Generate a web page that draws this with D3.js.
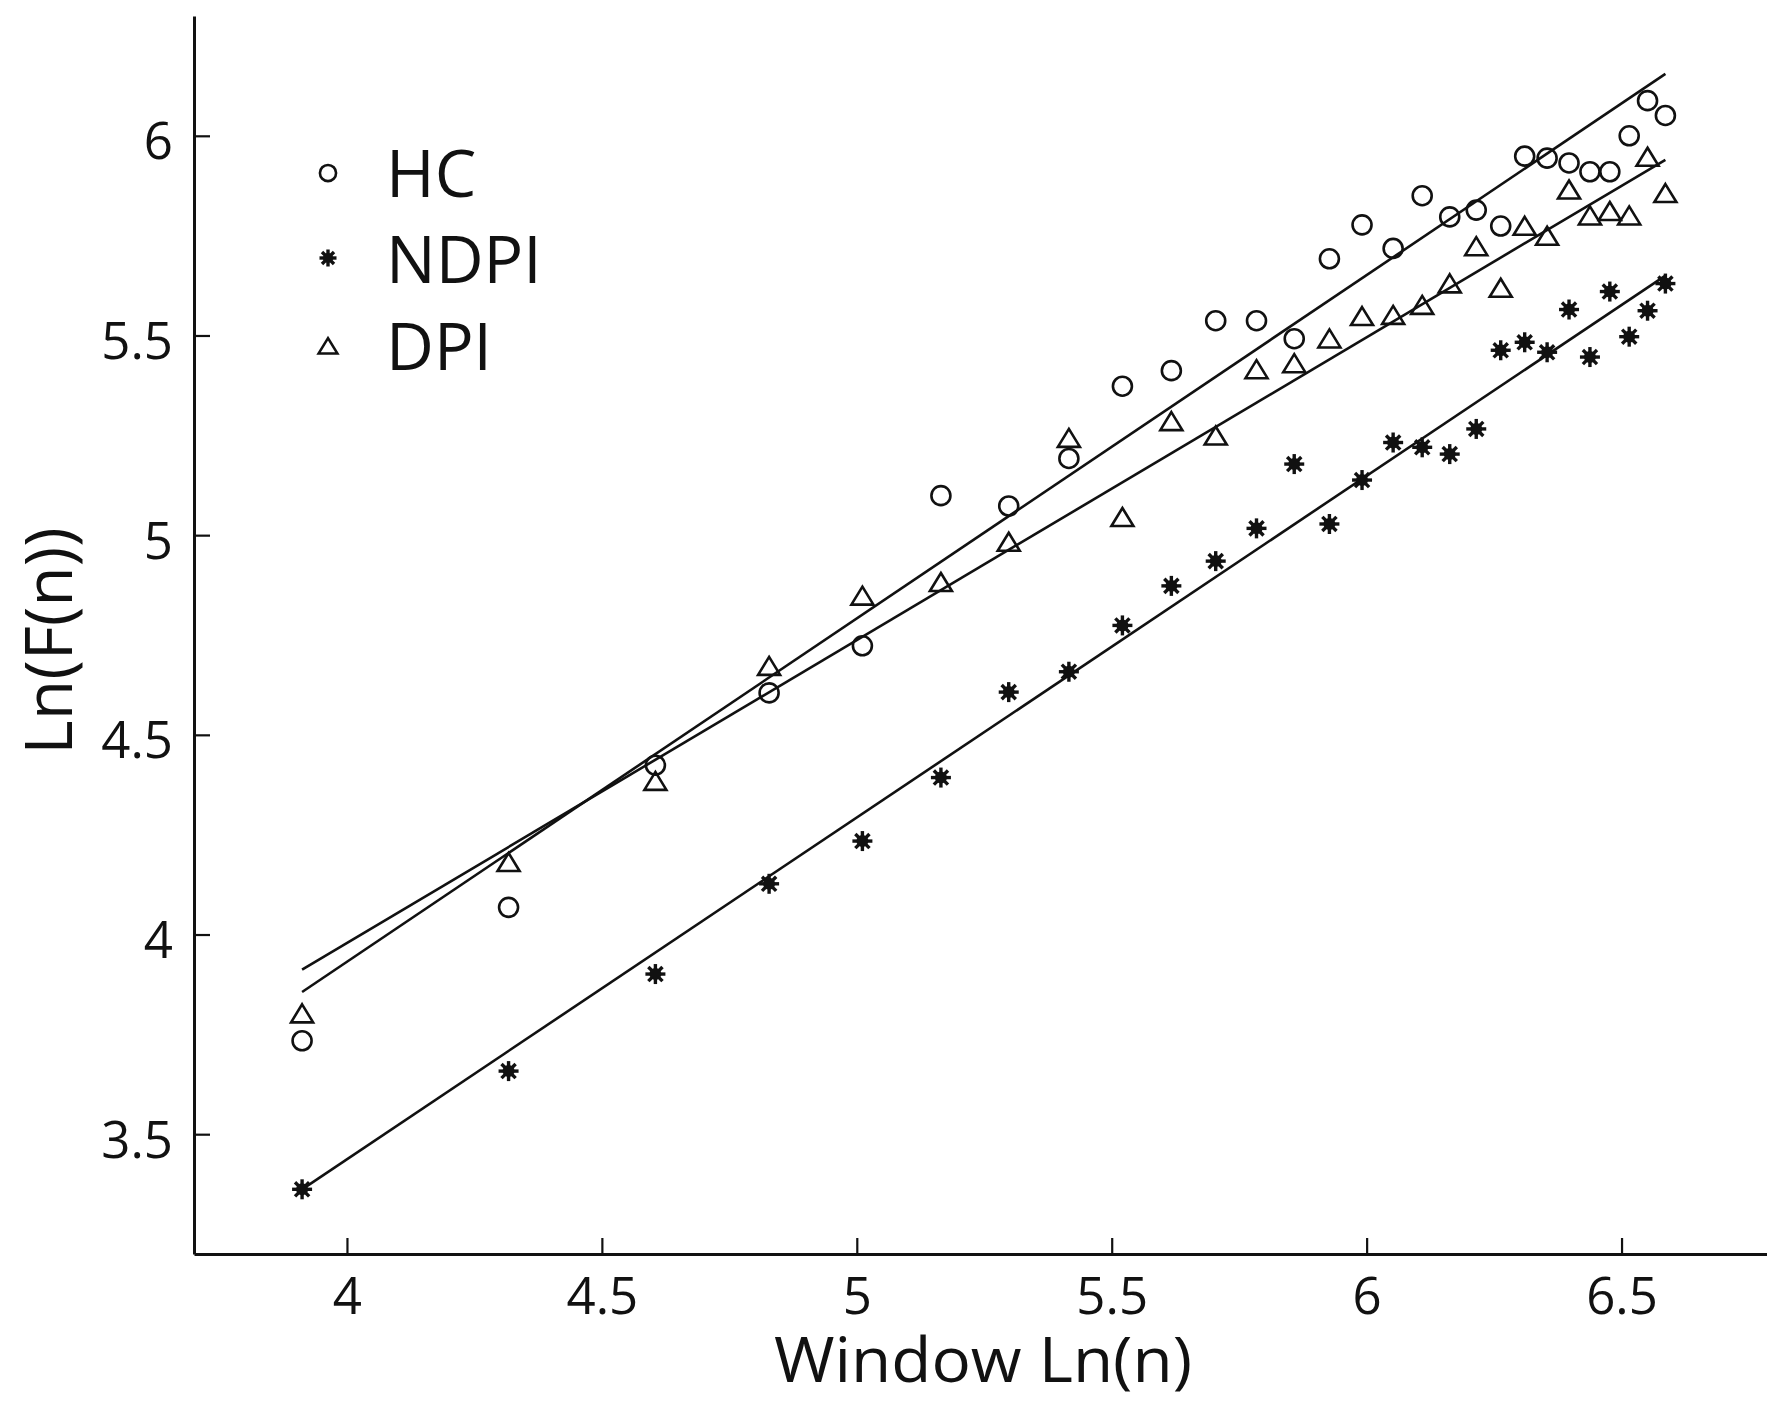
<!DOCTYPE html>
<html>
<head>
<meta charset="utf-8">
<script src="https://cdn.jsdelivr.net/npm/d3@7"></script>
<style>
  html, body { margin: 0; padding: 0; background: #fff; }
  svg { display: block; }
  text { font-family: "Open Sans", "Noto Sans", sans-serif; fill: #111; }
</style>
</head>
<body>
<svg id="chart" width="1767" height="1403"></svg>
<script>
// ---- data ----
const windowLn = [3.912, 4.317, 4.605, 4.828, 5.011, 5.165, 5.298, 5.416, 5.521, 5.617,
                  5.704, 5.784, 5.858, 5.927, 5.991, 6.052, 6.109, 6.163, 6.215, 6.263,
                  6.310, 6.354, 6.397, 6.438, 6.477, 6.515, 6.551, 6.586];
const hcValues = [3.734, 4.068, 4.424, 4.605, 4.723, 5.099, 5.073, 5.192, 5.373, 5.412,
                  5.537, 5.537, 5.492, 5.692, 5.777, 5.718, 5.850, 5.797, 5.814, 5.774,
                  5.949, 5.944, 5.932, 5.910, 5.910, 6.000, 6.088, 6.051];
const ndpiValues = [3.362, 3.658, 3.901, 4.127, 4.234, 4.393, 4.607, 4.658, 4.774, 4.873,
                    4.935, 5.017, 5.178, 5.028, 5.138, 5.232, 5.220, 5.203, 5.266, 5.463,
                    5.483, 5.458, 5.565, 5.446, 5.610, 5.497, 5.562, 5.630];
const dpiValues = [3.799, 4.178, 4.381, 4.669, 4.845, 4.879, 4.980, 5.240, 5.042, 5.282,
                   5.246, 5.412, 5.427, 5.489, 5.545, 5.548, 5.573, 5.627, 5.720, 5.616,
                   5.771, 5.746, 5.862, 5.797, 5.808, 5.797, 5.944, 5.853];
// fitted lines (end points)
const fitX = [3.912, 6.586];
const hcFit = [3.856, 6.155];
const ndpiFit = [3.362, 5.650];
const dpiFit = [3.912, 5.940];
const seriesNames = ["HC", "NDPI", "DPI"];
const xTicks = [4, 4.5, 5, 5.5, 6, 6.5];
const yTicks = [3.5, 4, 4.5, 5, 5.5, 6];
const xLabel = "Window Ln(n)";
const yLabel = "Ln(F(n))";

// ---- drawing ----
const svg = d3.select("#chart");
const ink = "#111";

const x = d3.scaleLinear().domain([3.7, 6.8]).range([194, 1774.5]);
const y = d3.scaleLinear().domain([3.2, 6.3]).range([1254, 16]);

// axes
const xAxis = d3.axisBottom(x).tickValues(xTicks).tickFormat(d3.format("")).tickSizeInner(-16).tickSizeOuter(0).tickPadding(24);
const yAxis = d3.axisLeft(y).tickValues(yTicks).tickFormat(d3.format("")).tickSizeInner(-16).tickSizeOuter(0).tickPadding(21);

const gx = svg.append("g").attr("transform", `translate(0,${y(3.2)})`).call(xAxis);
const gy = svg.append("g").attr("transform", `translate(${x(3.7)},0)`).call(yAxis);
[gx, gy].forEach(g => {
  g.select(".domain").attr("stroke", ink).attr("stroke-width", 3);
  g.selectAll(".tick line").attr("stroke", ink).attr("stroke-width", 2.2);
  g.selectAll(".tick text").attr("font-size", 51).attr("font-family", "'Open Sans', sans-serif").attr("fill", ink);
});
gy.selectAll(".tick text").attr("dy", "0.45em");

// axis titles
svg.append("text").attr("x", 983).attr("y", 1382).attr("text-anchor", "middle")
  .attr("font-size", 62).attr("textLength", 418).attr("lengthAdjust", "spacingAndGlyphs").text(xLabel);
svg.append("text").attr("transform", "translate(72,641) rotate(-90)").attr("text-anchor", "middle")
  .attr("font-size", 66).text(yLabel);

// fit lines
const fits = [hcFit, ndpiFit, dpiFit];
const line = d3.line().x(d => x(d[0])).y(d => y(d[1]));
fits.forEach(f => {
  svg.append("path").datum(fitX.map((v, i) => [v, f[i]]))
    .attr("d", line).attr("fill", "none").attr("stroke", ink).attr("stroke-width", 2.6);
});

// marker painters
function drawCircle(g, s) {
  g.append("circle").attr("r", 9.5 * s).attr("fill", "none").attr("stroke", ink).attr("stroke-width", 2.6);
}
function drawTriangle(g, s) {
  const w = 22 * s, h = 18 * s;
  g.append("path").attr("d", `M0,${-h * 0.58}L${w / 2},${h * 0.42}L${-w / 2},${h * 0.42}Z`)
    .attr("fill", "none").attr("stroke", ink).attr("stroke-width", 2.6).attr("stroke-linejoin", "miter");
}
function drawStar(g, s) {
  const r = 10 * s;
  [0, 45, 90, 135].forEach(a => {
    const rad = a * Math.PI / 180;
    g.append("line").attr("x1", -r * Math.cos(rad)).attr("y1", -r * Math.sin(rad))
      .attr("x2", r * Math.cos(rad)).attr("y2", r * Math.sin(rad))
      .attr("stroke", ink).attr("stroke-width", 3.4);
  });
  g.append("circle").attr("r", 6 * s).attr("fill", ink);
}

const series = [
  { values: hcValues, draw: drawCircle },
  { values: ndpiValues, draw: drawStar },
  { values: dpiValues, draw: drawTriangle }
];
series.forEach(sr => {
  svg.append("g").selectAll("g").data(windowLn.map((v, i) => [v, sr.values[i]]))
    .join("g").attr("transform", d => `translate(${x(d[0])},${y(d[1])})`)
    .each(function () { sr.draw(d3.select(this), 1); });
});

// legend
const legendY = [173, 258, 347];
const legendBase = [197, 283, 370];
const legendDraw = [drawCircle, drawStar, drawTriangle];
seriesNames.forEach((n, i) => {
  const g = svg.append("g").attr("transform", `translate(328,${legendY[i]})`);
  legendDraw[i](g, 0.85);
  svg.append("text").attr("x", 386).attr("y", legendBase[i]).attr("font-size", 66).text(n);
});
</script>
</body>
</html>
